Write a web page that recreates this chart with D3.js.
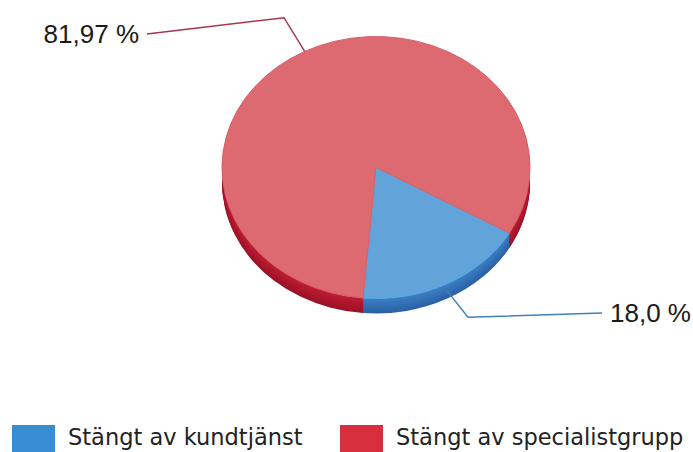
<!DOCTYPE html>
<html lang="sv">
  <head>
    <meta charset="utf-8"/>
    <title>Stängda ärenden</title>
    <style>
      body{
        margin: 0;
        background-color: #ffffff;
      }
      .pct{
        font-family: "Liberation Sans", Arial, sans-serif;
        font-size: 26px;
        fill: #1a1a1a;
      }
      .legend text{
        font-family: "DejaVu Sans", Verdana, sans-serif;
        font-size: 22.5px;
        fill: #222222;
      }
    </style>
  </head>
  <body>
    <svg id="chart"></svg>

    <script src="https://d3js.org/d3.v7.min.js"></script>
    <script type="text/javascript">
      // data
      const categories = ["Stängt av kundtjänst", "Stängt av specialistgrupp"];
      const values = [18.0, 81.97];
      const valueLabels = ["18,0 %", "81,97 %"];

      const width = 693;
      const height = 452;

      // pie geometry (tilted ellipse)
      const cx = 376, cy = 167.5;
      const rx = 154, ry = 131;
      const depth = 15;
      const startDeg = 120;

      const topColor = d3.scaleOrdinal().domain(categories).range(["#62a3da", "#dc6a70"]);
      const sideColor = d3.scaleOrdinal().domain(categories).range(["#3f80c4", "#bf1e34"]);
      const sideDark = d3.scaleOrdinal().domain(categories).range(["#2a62a6", "#9c1228"]);
      const lineColor = d3.scaleOrdinal().domain(categories).range(["#3f82bd", "#a5384a"]);
      const legendColor = d3.scaleOrdinal().domain(categories).range(["#388cd2", "#d72f3e"]);

      const svg = d3.select("#chart")
        .attr("width", width)
        .attr("height", height);

      const rows = categories.map(function(c, i) {
        return {name: c, value: values[i], label: valueLabels[i]};
      });

      const start = startDeg * Math.PI / 180;
      const pie = d3.pie()
        .sort(null)
        .value(function(d) { return d.value; })
        .startAngle(start)
        .endAngle(start + 2 * Math.PI);
      const arcs = pie(rows);

      const arc = d3.arc().innerRadius(0).outerRadius(rx);
      const squash = "scale(1," + (ry / rx) + ")";

      // side wall: stacked layers below the top face
      for (let k = depth; k >= 1; k--) {
        const t = k / depth;
        svg.append("g")
          .attr("transform", "translate(" + cx + "," + (cy + k) + ") " + squash)
          .selectAll("path")
          .data(arcs)
          .enter().append("path")
            .attr("d", arc)
            .attr("fill", function(d) {
              return d3.interpolateRgb(sideColor(d.data.name), sideDark(d.data.name))(t);
            });
      }

      // top face
      svg.append("g")
        .attr("transform", "translate(" + cx + "," + cy + ") " + squash)
        .selectAll("path")
        .data(arcs)
        .enter().append("path")
          .attr("d", arc)
          .attr("fill", function(d) { return topColor(d.data.name); })
          .attr("stroke", function(d, i) { return i === 0 ? "#4fb2ec" : "#d9606a"; })
          .attr("stroke-width", 1)
          .attr("vector-effect", "non-scaling-stroke");

      function proj(a, r) {
        return [cx + rx * r * Math.sin(a), cy - ry * r * Math.cos(a)];
      }

      // leader lines and value labels
      const labelPos = [
        {x: 610, y: 322, anchor: "start", end: [602, 313]},
        {x: 139, y: 43, anchor: "end", end: [147, 34]}
      ];

      arcs.forEach(function(d, i) {
        const mid = (d.startAngle + d.endAngle) / 2;
        const p0 = proj(mid, 1);
        if (Math.cos(mid) < 0) p0[1] += depth / 2;
        const p1 = proj(mid, 1.29);
        const lp = labelPos[i];

        svg.append("path")
          .attr("d", d3.line()([p0, p1, lp.end]))
          .attr("fill", "none")
          .attr("stroke", lineColor(d.data.name))
          .attr("stroke-width", 1.5);

        svg.append("text")
          .attr("class", "pct")
          .attr("x", lp.x)
          .attr("y", lp.y)
          .attr("text-anchor", lp.anchor)
          .text(d.data.label);
      });

      // legend
      const legendX = [12, 340];
      const legend = svg.append("g").attr("class", "legend");
      const items = legend.selectAll("g")
        .data(rows)
        .enter().append("g")
          .attr("transform", function(d, i) { return "translate(" + legendX[i] + ",425)"; });

      items.append("rect")
        .attr("width", 43)
        .attr("height", 27)
        .attr("fill", function(d) { return legendColor(d.name); });

      items.append("text")
        .attr("x", 56)
        .attr("y", 20)
        .text(function(d) { return d.name; });
    </script>
  </body>
</html>
